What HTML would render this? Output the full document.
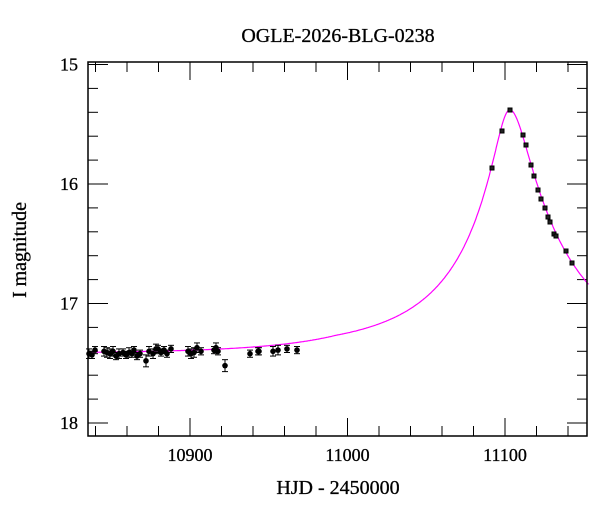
<!DOCTYPE html>
<html><head><meta charset="utf-8"><style>
body{margin:0;background:#fff}
text{font-family:"Liberation Serif",serif;fill:#000}
</style></head><body>
<svg id="s" width="600" height="512" xmlns="http://www.w3.org/2000/svg">
<rect width="600" height="512" fill="#fff"/>
<text x="338" y="42" font-size="20" text-anchor="middle" stroke="#000" stroke-width="0.3">OGLE-2026-BLG-0238</text>
<text x="338" y="494" font-size="20" text-anchor="middle" stroke="#000" stroke-width="0.3">HJD - 2450000</text>
<text transform="translate(26,250) rotate(-90)" font-size="20" text-anchor="middle" stroke="#000" stroke-width="0.3">I magnitude</text>
<g id="ticks" stroke="#000" stroke-width="1"></g>
<g id="lbl" font-size="18" stroke="#000" stroke-width="0.3"></g>
<path id="curve" fill="none" stroke="#ff00ff" stroke-width="1.2"/>
<g id="pts"></g>
<rect x="88" y="62" width="499" height="374" fill="none" stroke="#000" stroke-width="1.5"/>
</svg>
<script>
var X0=88,X1=587,Y0=62,Y1=436;
function xp(t){return 190+(t-10900)*1.575;}
function yp(m){return 64.5+(m-15)*119.5;}
var ns="http://www.w3.org/2000/svg",s=document.getElementById('s');
function el(tag,a,p){var e=document.createElementNS(ns,tag);for(var k in a)e.setAttribute(k,a[k]);(p||s).appendChild(e);return e;}
var tk=document.getElementById('ticks'),lb=document.getElementById('lbl');
for(var t=10840;t<=11150;t+=20){var x=xp(t),L=(t%100==0)?18:10;
 el('line',{x1:x,y1:Y1,x2:x,y2:Y1-L},tk);el('line',{x1:x,y1:Y0,x2:x,y2:Y0+L},tk);
 if(t%100==0){var tx=el('text',{x:x,y:461,'text-anchor':'middle'},lb);tx.textContent=t;}}
for(var i=0;i<=15;i++){var m=15+i*0.2,y=yp(m);if(y>Y1||y<Y0)continue;var L=(i%5==0)?20:10;
 el('line',{x1:X0,y1:y,x2:X0+L,y2:y},tk);el('line',{x1:X1,y1:y,x2:X1-L,y2:y},tk);
 if(i%5==0){var ty=el('text',{x:78,y:y+6,'text-anchor':'end'},lb);ty.textContent=Math.round(m);}}
function A(u){return (u*u+2)/(u*Math.sqrt(u*u+4));}
function mag(t){var t0=11103,u0=0.154,dt=t-t0,tE=dt<0?60+18*Math.min(1,-dt/110):75,d=dt/tE,u=Math.sqrt(u0*u0+d*d);return 17.42-2.5*Math.log10(A(u));}
var d='';for(var t=10835;t<=11153;t+=0.5){d+=(d?'L':'M')+xp(t).toFixed(1)+','+yp(mag(t)).toFixed(1);}
document.getElementById('curve').setAttribute('d',d);
var pg=document.getElementById('pts');
var base=[[89,17.42,.04],[92,17.43,.03],[95,17.39,.03],[104,17.4,.04],[107,17.41,.04],[110,17.42,.04],[113,17.4,.04],[116,17.44,.03],[119,17.42,.04],[123,17.41,.03],[126,17.43,.03],[129,17.41,.04],[132,17.42,.03],[134,17.39,.03],[137,17.44,.03],[140,17.42,.03],[146,17.48,.05],[149,17.4,.04],[153,17.42,.04],[156,17.38,.04],[158,17.38,.03],[161,17.41,.03],[164,17.39,.03],[167,17.42,.03],[171,17.38,.03],[188,17.4,.04],[191,17.42,.04],[194,17.41,.04],[197,17.37,.04],[201,17.4,.03],[214,17.39,.03],[216,17.37,.04],[218,17.4,.03],[225,17.52,.05],[250,17.42,.03],[258,17.4,.03],[259,17.4,.03],[273,17.4,.04],[278,17.39,.04],[287,17.38,.03],[297,17.39,.03]];
base.forEach(function(p){var x=p[0],y=yp(p[1]),e=p[2]*119.5;
 el('line',{x1:x,y1:y-e,x2:x,y2:y+e,stroke:'#000'},pg);
 el('line',{x1:x-3,y1:y-e,x2:x+3,y2:y-e,stroke:'#000'},pg);
 el('line',{x1:x-3,y1:y+e,x2:x+3,y2:y+e,stroke:'#000'},pg);
 el('circle',{cx:x,cy:y,r:2.8,fill:'#000'},pg);});
var peak=[[492,168],[502,131],[510,110],[523,135],[526,145],[531,165],[534,176],[538,190],[541,199],[545,208],[548,217],[550,222],[554,234],[556,236],[566,251],[572,263]];
peak.forEach(function(p){el('rect',{x:p[0]-2,y:p[1]-2,width:4,height:4,fill:'#222',stroke:'#000'},pg);});
</script>
</body></html>
